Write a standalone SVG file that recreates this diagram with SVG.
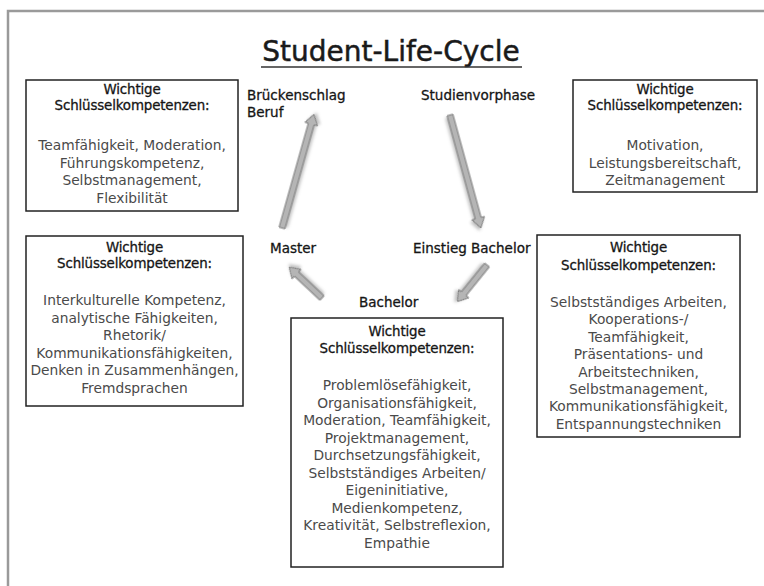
<svg xmlns="http://www.w3.org/2000/svg" width="764" height="586" viewBox="0 0 764 586">
<defs>
<style>
.frame{fill:none;stroke:#9a9a9a;stroke-width:2.5}
.box{fill:#fff;stroke:#222;stroke-width:1.5}
.hd{font-family:"DejaVu Sans",sans-serif;font-size:13.4px;letter-spacing:-0.15px;fill:#151515;stroke:#151515;stroke-width:0.3;text-anchor:middle}
.bd{font-family:"DejaVu Sans",sans-serif;font-size:13.8px;fill:#4a4a4a;text-anchor:middle}
.lbl{font-family:"DejaVu Sans",sans-serif;font-size:13.5px;fill:#151515;stroke:#151515;stroke-width:0.3}
.title{font-family:"DejaVu Sans",sans-serif;font-size:28px;fill:#1a1a1a;stroke:#1a1a1a;stroke-width:0.5;text-anchor:middle}
.arr{fill:#b5b5b5;stroke:#7a7a7a;stroke-width:1;filter:url(#sh)}
</style>
<filter id="sh" x="-30%" y="-30%" width="160%" height="160%">
<feDropShadow dx="2" dy="2" stdDeviation="1.5" flood-color="#777" flood-opacity="0.45"/>
</filter>
</defs>
<rect width="764" height="586" fill="#fff"/>
<path class="frame" d="M8 586V11H764"/>
<g id="title">
<text class="title" x="391" y="61">Student-Life-Cycle</text>
<line x1="261" y1="67" x2="522" y2="67" stroke="#333" stroke-width="1.5"/>
</g>
<g id="connectors">
<polygon class="arr" transform="translate(282,228) rotate(-74.3)" points="0,-3 108,-3 108,-6.5 118,0 108,6.5 108,3 0,3"/>
<polygon class="arr" transform="translate(450,115) rotate(74.7)" points="0,-3 107,-3 107,-6.5 117,0 107,6.5 107,3 0,3"/>
<polygon class="arr" transform="translate(487,265) rotate(129)" points="0,-3 37,-3 37,-6.5 47,0 37,6.5 37,3 0,3"/>
<polygon class="arr" transform="translate(322,298) rotate(-136.8)" points="0,-3 35,-3 35,-6.5 45,0 35,6.5 35,3 0,3"/>
</g>
<g id="label-brueckenschlag">
<text class="lbl" x="247" y="100">Brückenschlag</text>
<text class="lbl" x="247" y="117">Beruf</text>
</g>
<g id="label-studienvorphase"><text class="lbl" x="421" y="100">Studienvorphase</text></g>
<g id="label-master"><text class="lbl" x="270" y="253">Master</text></g>
<g id="label-einstieg"><text class="lbl" x="413" y="253">Einstieg Bachelor</text></g>
<g id="label-bachelor"><text class="lbl" x="359" y="307">Bachelor</text></g>
<g id="box-beruf">
<rect class="box" x="26" y="80" width="212" height="131"/>
<text class="hd" x="132" y="94">Wichtige</text>
<text class="hd" x="132" y="110">Schlüsselkompetenzen:</text>
<text class="bd" x="132" y="150">Teamfähigkeit, Moderation,</text>
<text class="bd" x="132" y="167.5">Führungskompetenz,</text>
<text class="bd" x="132" y="185">Selbstmanagement,</text>
<text class="bd" x="132" y="202.5">Flexibilität</text>
</g>
<g id="box-studienvorphase">
<rect class="box" x="573" y="80" width="184" height="112"/>
<text class="hd" x="665" y="94">Wichtige</text>
<text class="hd" x="665" y="110">Schlüsselkompetenzen:</text>
<text class="bd" x="665" y="150">Motivation,</text>
<text class="bd" x="665" y="167.5">Leistungsbereitschaft,</text>
<text class="bd" x="665" y="185">Zeitmanagement</text>
</g>
<g id="box-master">
<rect class="box" x="26" y="236" width="217" height="170"/>
<text class="hd" x="134.5" y="252">Wichtige</text>
<text class="hd" x="134.5" y="268">Schlüsselkompetenzen:</text>
<text class="bd" x="134.5" y="305">Interkulturelle Kompetenz,</text>
<text class="bd" x="134.5" y="322.5">analytische Fähigkeiten,</text>
<text class="bd" x="134.5" y="340">Rhetorik/</text>
<text class="bd" x="134.5" y="357.5">Kommunikationsfähigkeiten,</text>
<text class="bd" x="134.5" y="375">Denken in Zusammenhängen,</text>
<text class="bd" x="134.5" y="392.5">Fremdsprachen</text>
</g>
<g id="box-einstieg">
<rect class="box" x="537" y="235" width="203" height="202"/>
<text class="hd" x="638.5" y="252">Wichtige</text>
<text class="hd" x="638.5" y="270">Schlüsselkompetenzen:</text>
<text class="bd" x="638.5" y="307">Selbstständiges Arbeiten,</text>
<text class="bd" x="638.5" y="324.4">Kooperations-/</text>
<text class="bd" x="638.5" y="341.8">Teamfähigkeit,</text>
<text class="bd" x="638.5" y="359.2">Präsentations- und</text>
<text class="bd" x="638.5" y="376.6">Arbeitstechniken,</text>
<text class="bd" x="638.5" y="394">Selbstmanagement,</text>
<text class="bd" x="638.5" y="411.4">Kommunikationsfähigkeit,</text>
<text class="bd" x="638.5" y="428.8">Entspannungstechniken</text>
</g>
<g id="box-bachelor">
<rect class="box" x="291" y="318" width="212" height="249"/>
<text class="hd" x="397" y="336">Wichtige</text>
<text class="hd" x="397" y="353">Schlüsselkompetenzen:</text>
<text class="bd" x="397" y="390">Problemlösefähigkeit,</text>
<text class="bd" x="397" y="407.5">Organisationsfähigkeit,</text>
<text class="bd" x="397" y="425">Moderation, Teamfähigkeit,</text>
<text class="bd" x="397" y="442.5">Projektmanagement,</text>
<text class="bd" x="397" y="460">Durchsetzungsfähigkeit,</text>
<text class="bd" x="397" y="477.5">Selbstständiges Arbeiten/</text>
<text class="bd" x="397" y="495">Eigeninitiative,</text>
<text class="bd" x="397" y="512.5">Medienkompetenz,</text>
<text class="bd" x="397" y="530">Kreativität, Selbstreflexion,</text>
<text class="bd" x="397" y="547.5">Empathie</text>
</g>
</svg>
